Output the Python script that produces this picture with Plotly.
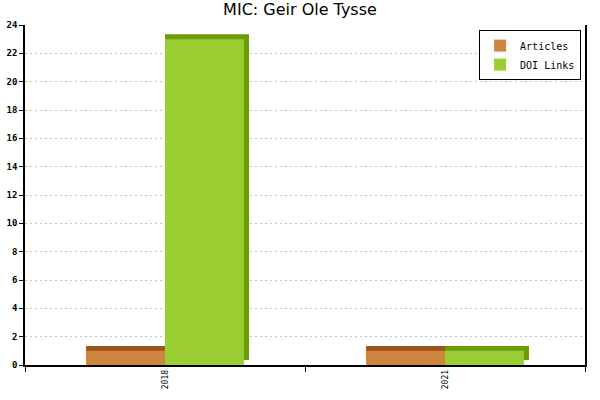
import plotly.graph_objects as go

# data
years = ["2018", "2021"]
articles = [1, 1]
doi_links = [23, 1]

bar_w = 0.282
depth_x = 0.018   # 3d side offset (category units)
depth_y = 0.35    # 3d top offset (value units)

fig = go.Figure()

# darker "depth" bars drawn first, a little taller and wider than the front face
for vals, off, dark in [(articles, -bar_w, "#9c5518"), (doi_links, 0.0, "#6a9e00")]:
    fig.add_trace(go.Bar(
        x=years, y=vals, base=depth_y, width=bar_w + depth_x, offset=off,
        marker=dict(color=dark, line=dict(width=0)),
        showlegend=False, hoverinfo="skip",
    ))

# front faces
fig.add_trace(go.Bar(
    x=years, y=articles, name="Articles", width=bar_w, offset=-bar_w,
    marker=dict(color="#cd853f", line=dict(width=0)),
))
fig.add_trace(go.Bar(
    x=years, y=doi_links, name="DOI Links", width=bar_w, offset=0.0,
    marker=dict(color="#9acd32", line=dict(width=0)),
))

mono = "DejaVu Sans Mono"

fig.update_layout(
    width=600, height=400,
    barmode="overlay",
    paper_bgcolor="white", plot_bgcolor="white",
    margin=dict(l=25, r=15, t=25, b=35, autoexpand=False),
    title=dict(text="MIC: Geir Ole Tysse", x=0.5, xanchor="center", y=0.99, yanchor="top",
               font=dict(family="DejaVu Sans", size=16, color="black")),
    legend=dict(x=0.993, y=0.985, xanchor="right", yanchor="top",
                bgcolor="white", bordercolor="black", borderwidth=1,
                font=dict(family=mono, size=10, color="black"),
                traceorder="normal", itemwidth=30),
    showlegend=True,
)

fig.update_xaxes(
    type="category", range=[-0.5, 1.5], automargin=False,
    showline=True, linecolor="black", linewidth=1.5, mirror=False,
    ticks="outside", tickson="boundaries", ticklen=5, tickcolor="black", tickwidth=1,
    tickangle=-90, tickfont=dict(family=mono, size=8, color="black"),
    showgrid=False,
)
fig.update_yaxes(
    range=[0, 24], dtick=2, automargin=False,
    showline=True, linecolor="black", linewidth=1.5, mirror=True,
    ticks="outside", ticklen=4, tickcolor="black", tickwidth=1,
    tickfont=dict(family=mono, size=9, color="black", weight="bold"),
    showgrid=True, gridcolor="#c0c0c0", griddash="2px,3px", gridwidth=1,
    zeroline=False,
)

# drop the default page margin so the 600x400 figure fills the window
fig.write_html("out.html", config={"displayModeBar": False},
               post_script="document.body.style.margin='0';")
